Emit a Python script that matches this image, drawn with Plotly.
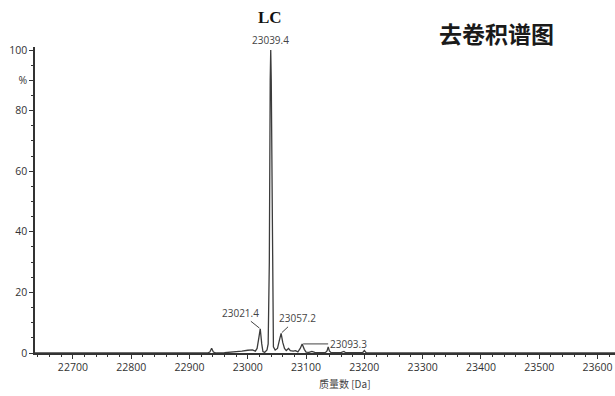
import plotly.graph_objects as go

# Deconvolved mass spectrum of the light chain (LC)
mass = [22635, 22900, 22930, 22935, 22938, 22941, 22946, 22960, 22975, 22990,
        23000, 23008, 23013, 23016, 23019, 23021.4, 23024, 23026, 23029, 23033,
        23035, 23037, 23038.5, 23039.4, 23040.3, 23042, 23044, 23047, 23051,
        23054, 23057.2, 23060, 23063, 23066, 23070, 23073, 23078, 23082, 23086,
        23090, 23093.3, 23097, 23100, 23105, 23110, 23115, 23120, 23133, 23136,
        23138, 23140, 23143, 23160, 23163, 23165, 23168, 23197, 23200, 23203,
        23210, 23630]
intensity = [0, 0, 0, 0.3, 1.6, 0.3, 0, 0.1, 0.3, 0.6,
             0.9, 1.0, 0.6, 1.5, 5.0, 8.0, 3.0, 0.5, 0.2, 1.0,
             3.0, 30, 90, 100, 90, 30, 2.0, 1.0, 1.5,
             4.0, 6.5, 3.5, 1.5, 0.8, 1.5, 0.8, 0.6, 0.8, 0.4,
             1.5, 3.0, 1.2, 0.3, 0.2, 0.5, 0.2, 0.1, 0.1, 0.7,
             2.0, 0.7, 0.1, 0.1, 0.4, 0.5, 0.1, 0.1, 0.8, 0.1,
             0, 0]

# Labelled peaks: mass and height
peak_mass = [23039.4, 23021.4, 23057.2, 23093.3]
peak_height = [100, 8.0, 6.5, 3.0]

x_ticks = [22700, 22800, 22900, 23000, 23100, 23200, 23300, 23400, 23500, 23600]
x_tick_text = [str(v) for v in x_ticks]
y_ticks = [0, 20, 40, 60, 80, 90, 100]
y_tick_text = ["0", "20", "40", "60", "80", "%", "100"]

axis_color = "#333333"
line_color = "#3c3c3c"
text_font = "Open Sans"

fig = go.Figure()
fig.add_trace(go.Scatter(
    x=mass, y=intensity, mode="lines",
    line=dict(color=line_color, width=1.3),
    hoverinfo="x+y", showlegend=False,
))

# Main peak label sits directly above the peak
fig.add_annotation(
    x=peak_mass[0], y=peak_height[0], text=f"{peak_mass[0]}",
    showarrow=False, yanchor="bottom", yshift=1,
    font=dict(family=text_font, size=10, color="#444444"),
)
# Smaller peaks with leader lines
offsets = [(-20, -16), (16, -15), (46, 0)]
for m, h, (ax, ay) in zip(peak_mass[1:], peak_height[1:], offsets):
    fig.add_annotation(
        x=m, y=h, text=f"{m}", showarrow=True, arrowhead=0,
        arrowwidth=1, arrowcolor="#444444", ax=ax, ay=ay, standoff=1,
        font=dict(family=text_font, size=10, color="#444444"),
    )

# Titles
fig.add_annotation(
    xref="paper", yref="paper", x=0.405, y=1.0964, text="<b>LC</b>",
    showarrow=False, xanchor="center", yanchor="middle",
    font=dict(family="Liberation Serif", size=17, color="#111111"),
)
fig.add_annotation(
    xref="paper", yref="paper", x=0.795, y=1.0458, text="<b>去卷积谱图</b>",
    showarrow=False, xanchor="center", yanchor="middle",
    font=dict(family="Noto Sans CJK SC", size=23, color="#1a1a1a"),
)
fig.add_annotation(
    xref="paper", yref="paper", x=0.5345, y=-0.1013, text="质量数 [Da]",
    showarrow=False, xanchor="center", yanchor="middle",
    font=dict(family="Noto Sans CJK SC", size=10, color="#444444"),
)

fig.update_xaxes(
    range=[22635, 23630], tickvals=x_ticks, ticktext=x_tick_text,
    ticks="outside", ticklen=4, tickwidth=1, tickcolor=axis_color,
    showline=True, linecolor=axis_color, linewidth=1.5, showgrid=False,
    zeroline=False,
    tickfont=dict(family=text_font, size=10.5, color="#333333"),
    minor=dict(dtick=20, tick0=22700, ticks="outside", ticklen=2,
               tickcolor=axis_color, showgrid=False),
)
fig.update_yaxes(
    range=[0, 101], tickvals=y_ticks, ticktext=y_tick_text, ticks="outside",
    ticklen=4, tickwidth=1, tickcolor=axis_color, showline=True,
    linecolor=axis_color, linewidth=1.5, showgrid=False, zeroline=False,
    tickfont=dict(family=text_font, size=10.5, color="#333333"),
    minor=dict(dtick=5, tick0=0, ticks="outside", ticklen=2,
               tickcolor=axis_color, showgrid=False),
)

fig.update_layout(
    width=615, height=396,
    margin=dict(l=35, r=0, t=47, b=43),
    plot_bgcolor="white", paper_bgcolor="white",
)

fig.write_html("out.html")
